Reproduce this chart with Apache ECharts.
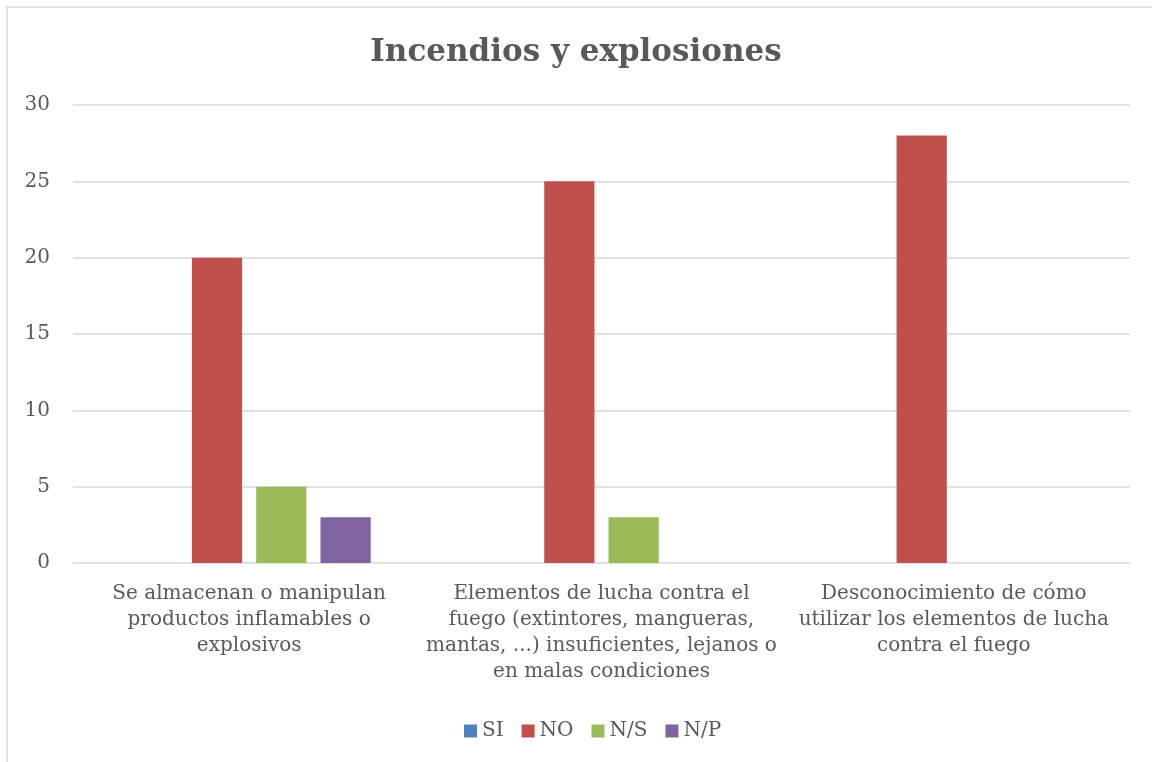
<!DOCTYPE html>
<html>
<head>
<meta charset="utf-8">
<script src="https://cdn.jsdelivr.net/npm/echarts@6/dist/echarts.min.js"></script>
<style>
  html, body { margin: 0; padding: 0; background: #fff; }
  #chart { width: 1152px; height: 762px; }
</style>
</head>
<body>
<div id="chart"></div>
<script>
const categories = [
  "Se almacenan o manipulan\nproductos inflamables o\nexplosivos",
  "Elementos de lucha contra el\nfuego (extintores, mangueras,\nmantas, ...) insuficientes, lejanos o\nen malas condiciones",
  "Desconocimiento de cómo\nutilizar los elementos de lucha\ncontra el fuego"
];
const seriesNames = ["SI", "NO", "N/S", "N/P"];
const siValues = [0, 0, 0];
const noValues = [20, 25, 28];
const nsValues = [5, 3, 0];
const npValues = [3, 0, 0];
const colors = ["#4f81bd", "#c0504d", "#9bbb59", "#8064a2"];

const font = "DejaVu Serif";
const textColor = "#595959";

const chart = echarts.init(document.getElementById("chart"));

const allValues = [siValues, noValues, nsValues, npValues];

chart.setOption({
  animation: false,
  backgroundColor: "#fff",
  title: {
    text: "Incendios y explosiones",
    left: "center",
    top: 32,
    textStyle: { fontFamily: font, fontSize: 31, fontWeight: "bold", color: textColor }
  },
  graphic: [{
    type: "rect",
    shape: { x: 7, y: 7, width: 1200, height: 800 },
    style: { fill: "none", stroke: "#d9d9d9", lineWidth: 1.5 },
    silent: true
  }],
  legend: {
    bottom: 16,
    left: 459,
    itemWidth: 13,
    itemHeight: 13,
    itemGap: 18,
    icon: "rect",
    textStyle: { fontFamily: font, fontSize: 20, color: textColor },
    data: seriesNames
  },
  grid: { left: 73, right: 22, top: 105, bottom: 199, containLabel: false },
  xAxis: {
    type: "category",
    data: categories,
    axisLine: { show: false },
    axisTick: { show: false },
    axisLabel: {
      interval: 0,
      margin: 18,
      fontFamily: font,
      fontSize: 20,
      lineHeight: 26,
      color: textColor,
      align: "center"
    }
  },
  yAxis: {
    type: "value",
    min: 0,
    max: 30,
    interval: 5,
    axisLine: { show: false },
    axisTick: { show: false },
    axisLabel: { fontFamily: font, fontSize: 20, color: textColor, margin: 23 },
    splitLine: { lineStyle: { color: "#d9d9d9", width: 1.5 } }
  },
  series: seriesNames.map((name, i) => ({
    name: name,
    type: "bar",
    data: allValues[i],
    itemStyle: { color: colors[i] },
    barGap: "28%",
    barCategoryGap: "31%"
  }))
});
</script>
</body>
</html>
